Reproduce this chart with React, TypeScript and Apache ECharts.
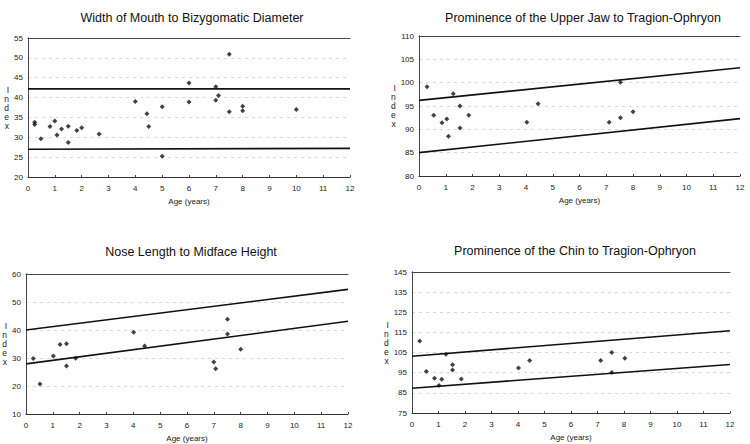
import React, { useEffect, useRef } from "react";
import * as echarts from "echarts";

const titles = [
  "Width of Mouth to Bizygomatic Diameter",
  "Prominence of the Upper Jaw to Tragion-Ophryon",
  "Nose Length to Midface Height",
  "Prominence of the Chin to Tragion-Ophryon",
];

const xAxisName = "Age (years)";
const yAxisName = "I\nn\nd\ne\nx";

const yMins = [20, 80, 10, 75];
const yMaxs = [55, 110, 60, 145];
const yIntervals = [5, 5, 10, 10];

const mouthPoints: number[][] = [
  [0.25, 33.8], [0.25, 33.2], [0.48, 29.6], [0.82, 32.7], [1.0, 34.1], [1.08, 30.6],
  [1.25, 32.1], [1.5, 32.8], [1.5, 28.7], [1.82, 31.7], [2.0, 32.4], [2.65, 30.8],
  [4.0, 39.0], [4.43, 35.9], [4.5, 32.7], [5.0, 37.7], [5.0, 25.2], [6.0, 43.7],
  [6.0, 38.9], [7.0, 42.7], [7.0, 39.3], [7.1, 40.5], [7.5, 50.9], [7.5, 36.4],
  [8.0, 37.8], [8.0, 36.7], [10.0, 37.0],
];
const mouthUpper: number[][] = [[0, 42.2], [12, 42.2]];
const mouthLower: number[][] = [[0, 27.0], [12, 27.2]];

const jawPoints: number[][] = [
  [0.3, 99.1], [0.55, 93.0], [0.86, 91.4], [1.04, 92.2], [1.1, 88.5], [1.28, 97.6],
  [1.53, 95.0], [1.53, 90.3], [1.86, 93.0], [4.03, 91.5], [4.45, 95.5], [7.11, 91.5],
  [7.53, 100.1], [7.53, 92.5], [8.0, 93.75],
];
const jawUpper: number[][] = [[0, 96.2], [12, 103.2]];
const jawLower: number[][] = [[0, 85.0], [12, 92.3]];

const nosePoints: number[][] = [
  [0.27, 29.8], [0.52, 20.7], [1.02, 30.7], [1.27, 34.8], [1.51, 35.1], [1.51, 27.1],
  [1.85, 29.9], [4.01, 39.2], [4.42, 34.3], [7.0, 28.6], [7.07, 26.2], [7.51, 43.8],
  [7.51, 38.6], [8.0, 33.1],
];
const noseUpper: number[][] = [[0, 40.0], [12, 54.5]];
const noseLower: number[][] = [[0, 27.9], [12, 43.1]];

const chinPoints: number[][] = [
  [0.29, 110.8], [0.54, 95.6], [0.85, 92.3], [1.02, 88.6], [1.12, 91.8], [1.28, 104.2],
  [1.53, 98.9], [1.53, 96.4], [1.86, 91.9], [4.02, 97.4], [4.44, 101.1], [7.12, 101.1],
  [7.54, 105.0], [7.54, 95.1], [8.03, 102.2],
];
const chinUpper: number[][] = [[0, 103.2], [12, 115.8]];
const chinLower: number[][] = [[0, 87.3], [12, 99.1]];

const allPoints = [mouthPoints, jawPoints, nosePoints, chinPoints];
const allUpper = [mouthUpper, jawUpper, noseUpper, chinUpper];
const allLower = [mouthLower, jawLower, noseLower, chinLower];

const gridBoxes = [
  { left: 28, top: 38, width: 322, height: 139 },
  { left: 419, top: 36, width: 321, height: 140 },
  { left: 26, top: 274, width: 322, height: 140 },
  { left: 412, top: 272, width: 318, height: 141 },
];
const titlePos = [
  { x: 187, y: 13 },
  { x: 578, y: 13 },
  { x: 186, y: 247 },
  { x: 570, y: 246 },
];

export default function App() {
  const ref = useRef<HTMLDivElement>(null);
  useEffect(() => {
    document.body.style.margin = "0";
    if (!ref.current) return;
    const chart = echarts.init(ref.current, undefined, { renderer: "svg" });
    const font = "Arial, 'Liberation Sans', sans-serif";
    const grids = gridBoxes.map((g) => ({ ...g, containLabel: false, show: false }));
    const xAxes = gridBoxes.map((_, i) => ({
      type: "value",
      gridIndex: i,
      min: 0,
      max: 12,
      interval: 1,
      name: xAxisName,
      nameLocation: "middle",
      nameGap: 20,
      nameTextStyle: { fontSize: 8, color: "#222", fontFamily: font },
      axisLine: { show: true, lineStyle: { color: "#333", width: 1 } },
      axisTick: { show: true, inside: true, length: 2, lineStyle: { color: "#444" } },
      axisLabel: { fontSize: 8, color: "#222", fontFamily: font, margin: 7 },
      splitLine: { show: false },
    }));
    const yAxes = gridBoxes.map((_, i) => ({
      type: "value",
      gridIndex: i,
      min: yMins[i],
      max: yMaxs[i],
      interval: yIntervals[i],
      name: yAxisName,
      nameLocation: "middle",
      nameRotate: 0,
      nameGap: i === 1 || i === 3 ? 23 : 19,
      nameTextStyle: { fontSize: 8.5, color: "#222", fontFamily: font, lineHeight: 9 },
      axisLine: { show: true, lineStyle: { color: "#333", width: 1 } },
      axisTick: { show: false },
      axisLabel: { fontSize: 8, color: "#222", fontFamily: font, margin: 5 },
      splitLine: { show: true, lineStyle: { color: "#c8c8c8", width: 0.7, type: [3, 4] } },
    }));
    const xTop = gridBoxes.map((_, i) => ({
      type: "value", gridIndex: i, min: 0, max: 12, position: "top",
      axisLine: { show: true, lineStyle: { color: "#444", width: 1 } },
      axisTick: { show: false }, axisLabel: { show: false }, splitLine: { show: false },
    }));
    const yRight = gridBoxes.map((_, i) => ({
      type: "value", gridIndex: i, min: yMins[i], max: yMaxs[i], position: "right",
      axisLine: { show: true, lineStyle: { color: "#444", width: 1 } },
      axisTick: { show: false }, axisLabel: { show: false }, splitLine: { show: false },
    }));
    const series: any[] = [];
    for (let i = 0; i < 4; i++) {
      series.push({
        type: "scatter",
        xAxisIndex: i,
        yAxisIndex: i,
        data: allPoints[i],
        symbol: "diamond",
        symbolSize: 5,
        itemStyle: { color: "#111" },
      });
      [allUpper[i], allLower[i]].forEach((d) => {
        series.push({
          type: "line",
          xAxisIndex: i,
          yAxisIndex: i,
          data: d,
          symbol: "none",
          lineStyle: { color: "#111", width: 1.6 },
        });
      });
    }
    chart.setOption({
      animation: false,
      backgroundColor: "#fff",
      title: titles.map((t, i) => ({
        text: t,
        left: titlePos[i].x,
        top: titlePos[i].y,
        textAlign: "center",
        textVerticalAlign: "middle",
        textStyle: { fontSize: 12.5, fontWeight: "normal", color: "#111", fontFamily: font },
      })),
      grid: grids,
      xAxis: [...xAxes, ...xTop],
      yAxis: [...yAxes, ...yRight],
      series,
    });
    return () => chart.dispose();
  }, []);
  return <div ref={ref} style={{ width: 750, height: 444 }} />;
}
